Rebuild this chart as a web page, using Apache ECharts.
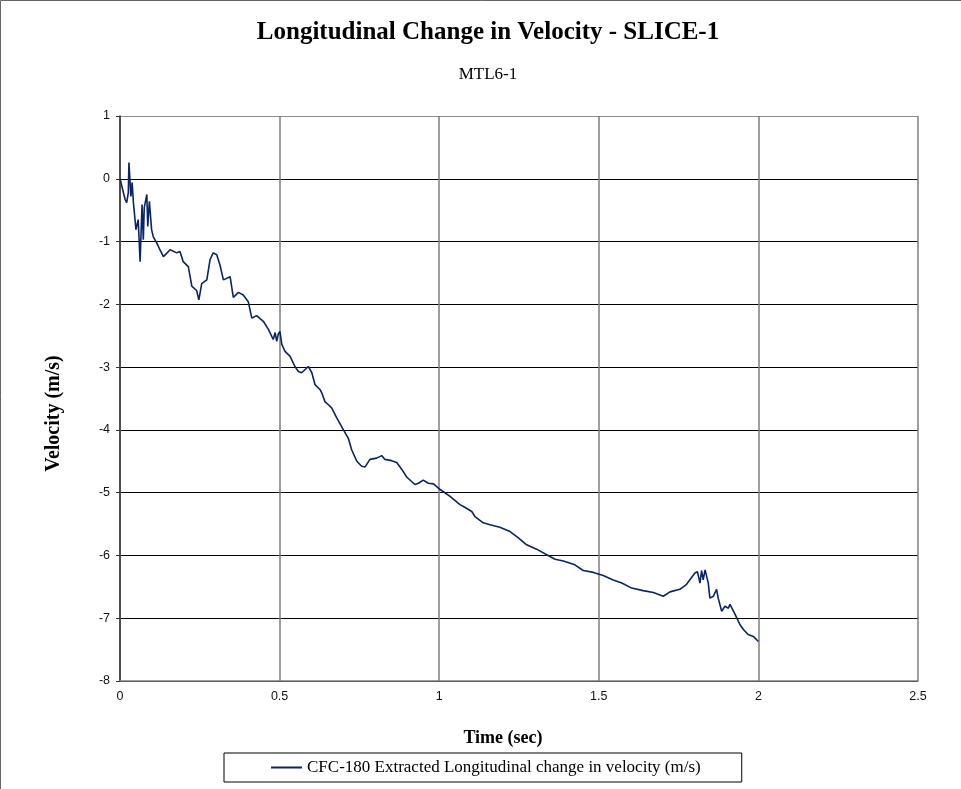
<!DOCTYPE html>
<html>
<head>
<meta charset="utf-8">
<title>Longitudinal Change in Velocity - SLICE-1</title>
<script src="https://cdn.jsdelivr.net/npm/echarts@6/dist/echarts.min.js"></script>
<style>
  html, body { margin: 0; padding: 0; background: #fff; }
  #chart { width: 961px; height: 789px; }
</style>
</head>
<body>
<div id="chart"></div>
<script>
// Time samples (s)
const timeSec = [
  0.000, 0.016, 0.021, 0.026, 0.028, 0.034, 0.038, 0.042, 0.050, 0.057,
  0.063, 0.069, 0.073, 0.076, 0.084, 0.087, 0.092, 0.099, 0.104, 0.115,
  0.125, 0.136, 0.157, 0.178, 0.188, 0.198, 0.214, 0.225, 0.240, 0.247,
  0.256, 0.272, 0.282, 0.292, 0.303, 0.313, 0.324, 0.329, 0.345, 0.355,
  0.360, 0.371, 0.386, 0.402, 0.413, 0.428, 0.449, 0.465, 0.480, 0.486,
  0.491, 0.496, 0.501, 0.507, 0.517, 0.533, 0.548, 0.559, 0.569, 0.590,
  0.601, 0.611, 0.627, 0.632, 0.642, 0.653, 0.663, 0.668, 0.679, 0.700,
  0.715, 0.726, 0.742, 0.757, 0.768, 0.783, 0.804, 0.820, 0.830, 0.851,
  0.867, 0.883, 0.898, 0.924, 0.935, 0.950, 0.966, 0.982, 1.003, 1.034,
  1.065, 1.076, 1.102, 1.112, 1.138, 1.159, 1.190, 1.222, 1.248, 1.274,
  1.305, 1.337, 1.363, 1.389, 1.425, 1.451, 1.483, 1.514, 1.545, 1.572,
  1.603, 1.639, 1.671, 1.702, 1.723, 1.754, 1.775, 1.801, 1.809, 1.817,
  1.822, 1.827, 1.833, 1.843, 1.848, 1.859, 1.869, 1.874, 1.885, 1.895,
  1.906, 1.911, 1.927, 1.942, 1.953, 1.968, 1.984, 2.000
];

// CFC-180 extracted longitudinal change in velocity (m/s)
const velocity = [
   0.00, -0.33, -0.38, -0.22,  0.26, -0.28, -0.06, -0.38, -0.81, -0.65,
  -1.32, -0.41, -0.97, -0.46, -0.25, -0.76, -0.36, -0.81, -0.92, -1.02,
  -1.13, -1.24, -1.13, -1.18, -1.16, -1.32, -1.40, -1.71, -1.78, -1.93,
  -1.67, -1.61, -1.29, -1.18, -1.21, -1.37, -1.61, -1.58, -1.56, -1.89,
  -1.87, -1.81, -1.85, -1.96, -2.22, -2.18, -2.27, -2.40, -2.56, -2.45,
  -2.59, -2.47, -2.43, -2.64, -2.75, -2.83, -2.99, -3.07, -3.09, -2.99,
  -3.09, -3.28, -3.36, -3.41, -3.55, -3.60, -3.65, -3.68, -3.81, -4.00,
  -4.13, -4.32, -4.50, -4.58, -4.59, -4.47, -4.45, -4.41, -4.47, -4.49,
  -4.52, -4.63, -4.75, -4.87, -4.85, -4.80, -4.85, -4.86, -4.95, -5.06,
  -5.19, -5.22, -5.30, -5.38, -5.48, -5.51, -5.55, -5.62, -5.72, -5.83,
  -5.90, -5.99, -6.06, -6.09, -6.15, -6.24, -6.27, -6.32, -6.39, -6.44,
  -6.52, -6.56, -6.59, -6.65, -6.58, -6.54, -6.46, -6.28, -6.26, -6.44,
  -6.24, -6.39, -6.23, -6.44, -6.68, -6.65, -6.54, -6.68, -6.89, -6.81,
  -6.84, -6.78, -6.94, -7.10, -7.18, -7.26, -7.29, -7.37
];

const seriesName = 'CFC-180 Extracted Longitudinal change in velocity (m/s)';
const yTicks = [-8, -7, -6, -5, -4, -3, -2, -1, 0, 1];

const points = timeSec.map((t, i) => [t, velocity[i]]);

// Horizontal grid lines are black; the top edge of the plot stays grey.
const hLineColors = yTicks.map(v => (v === 1 ? '#8c8c8c' : '#000'));

const serif = '"Liberation Serif", "Times New Roman", serif';
const sans = '"Liberation Sans", Arial, sans-serif';
const lineColor = '#0a2466';

const chart = echarts.init(document.getElementById('chart'), null, { renderer: 'canvas' });

chart.setOption({
  backgroundColor: '#fff',
  animation: false,
  title: [
    {
      text: 'Longitudinal Change in Velocity - SLICE-1',
      left: 483, top: 15, textAlign: 'center',
      textStyle: { fontFamily: serif, fontSize: 25, fontWeight: 'bold', color: '#000' }
    },
    {
      text: 'MTL6-1',
      left: 483, top: 61, textAlign: 'center',
      textStyle: { fontFamily: serif, fontSize: 17, fontWeight: 'normal', color: '#000' }
    }
  ],
  graphic: [
    {
      type: 'rect', silent: true, z: -1,
      shape: { x: 0.5, y: 0.5, width: 1100, height: 1000 },
      style: { fill: 'none', stroke: '#666', lineWidth: 1 }
    }
  ],
  legend: {
    left: 224, top: 753,
    padding: [6, 41, 6, 47],
    borderColor: '#000', borderWidth: 1,
    itemWidth: 31, itemHeight: 2, itemGap: 2,
    icon: 'rect',
    itemStyle: { color: lineColor },
    textStyle: { fontFamily: serif, fontSize: 17, color: '#000' },
    data: [seriesName]
  },
  grid: { left: 120, right: 43, top: 116, bottom: 108, containLabel: false },
  xAxis: {
    type: 'value',
    min: 0, max: 2.5, interval: 0.5,
    name: 'Time (sec)',
    nameLocation: 'middle',
    nameGap: 48,
    nameTextStyle: { fontFamily: serif, fontSize: 18, fontWeight: 'bold', color: '#000', padding: [0, 32, 0, 0] },
    axisLine: { show: true, onZero: false, lineStyle: { color: '#7f7f7f', width: 1.5 } },
    axisTick: { show: false },
    axisLabel: { fontFamily: sans, fontSize: 12.5, color: '#111', margin: 9 },
    splitLine: { show: true, lineStyle: { color: '#7f7f7f', width: 1.5 } }
  },
  yAxis: {
    type: 'value',
    min: -8, max: 1, interval: 1,
    name: 'Velocity (m/s)',
    nameLocation: 'middle',
    nameGap: 56,
    nameRotate: 90,
    nameTextStyle: { fontFamily: serif, fontSize: 20, fontWeight: 'bold', color: '#000', padding: [0, 30, 0, 0] },
    axisLine: { show: true, onZero: false, lineStyle: { color: '#333', width: 1.5 } },
    axisTick: { show: true, inside: false, length: 4, lineStyle: { color: '#333', width: 1 } },
    axisLabel: { fontFamily: sans, fontSize: 12.5, color: '#111', margin: 10 },
    splitLine: { show: true, lineStyle: { color: hLineColors, width: 1 } }
  },
  series: [
    {
      name: seriesName,
      type: 'line',
      data: points,
      showSymbol: false,
      symbol: 'none',
      lineStyle: { color: lineColor, width: 1.6 },
      itemStyle: { color: lineColor },
      z: 3
    }
  ]
});
</script>
</body>
</html>
